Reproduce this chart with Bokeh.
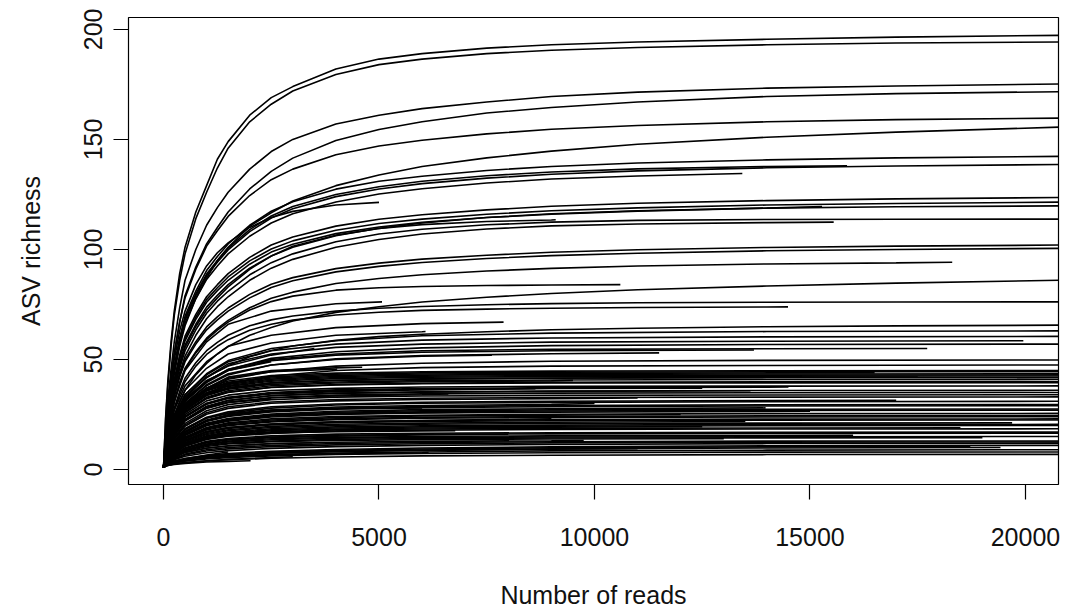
from bokeh.plotting import figure
from bokeh.models import Range1d, FixedTicker
from bokeh.embed import file_html
from bokeh.resources import INLINE

X_TICKS = [0, 5000, 10000, 15000, 20000]
Y_TICKS = [0, 50, 100, 150, 200]

# ---- richer samples: at a fine set of depths (number of reads)
FINE_DEPTHS = [1, 50, 100, 175, 250, 375, 500, 750, 1000, 1250, 1500, 2000, 2500,
               3000, 4000, 5000, 6000, 7500, 9000, 11000, 14000, 17000, 20800]
upper_reads = [20800, 20800, 20800, 20800, 20800, 20800,
               20800, 20800, 15860, 13430,
               20800, 20800, 20800, 15280, 15550, 9100, 5000, 20800,
               20800, 20800, 18300, 20800, 10600,
               20800, 14490, 20800]
# richness at each depth below the sample's total reads; last value = richness at total reads
upper_richness = [
    [1, 24, 40, 58, 72, 89, 101, 117, 129, 141, 149, 161, 169, 174, 182, 186.5, 189, 191.5, 193, 194.3, 195.5, 196.5, 197.3],
    [1, 23, 38, 56, 70, 86, 98, 114, 126, 137, 146, 158, 166, 172, 179.5, 184, 186.5, 189, 190.5, 191.8, 193, 193.8, 194.3],
    [1, 17.5, 31.5, 45.5, 58, 73.5, 86, 100, 111, 119, 126, 136.5, 144.5, 150, 157, 161, 164, 167, 169.5, 171.5, 173.3, 174.3, 175.2],
    [1, 16, 29, 42, 53, 67, 79, 92, 102.5, 110, 117, 127.5, 135.5, 141.5, 149.5, 154.5, 158, 162, 164.5, 167, 169.5, 170.8, 171.7],
    [1, 16, 28.7, 41.5, 52.7, 67, 78, 91, 101.5, 108.5, 115, 124.5, 131.7, 136.5, 143, 147, 149.6, 152.5, 154.6, 156.3, 158, 159, 159.7],
    [1, 12.5, 23.3, 34.2, 43.5, 56, 65.3, 77.8, 87, 95, 101, 110.5, 116.7, 122, 129, 133.8, 137.7, 141.6, 144.7, 147.8, 151, 153.3, 155.6],
    [1, 14.2, 25.6, 37, 47, 59.8, 69.7, 81.1, 90.4, 96.8, 102.5, 111, 117.4, 121.7, 127.4, 131, 133.3, 135.9, 137.7, 139.3, 140.7, 141.6, 142.3],
    [1, 13.9, 25, 36, 45.7, 58.2, 67.9, 79, 88, 94.2, 99.8, 108.1, 114.3, 118.5, 124, 127.5, 129.9, 132.4, 134.2, 135.7, 137.1, 137.9, 138.6],
    [1, 14, 25.2, 36.5, 46.2, 58.8, 68.5, 79.8, 88.8, 95, 100.6, 109, 115.2, 119.5, 125, 128.5, 131, 133.5, 135.2, 136.6, 137.7, 138],
    [1, 13.5, 24.5, 35.3, 44.9, 57.2, 66.6, 77.6, 86.4, 92.5, 98, 106, 112, 116.2, 121.6, 125.2, 127.6, 130.2, 132, 133.4, 134.5],
    [1, 12.4, 22.2, 32.1, 40.8, 51.9, 60.6, 70.5, 78.5, 84, 89, 96.4, 102, 105.7, 110.6, 113.7, 115.8, 118, 119.6, 121, 122.2, 123, 123.6],
    [1, 12.2, 21.9, 31.6, 40.1, 51, 59.5, 69.3, 77.2, 82.6, 87.5, 94.8, 100.2, 103.9, 108.7, 111.8, 113.8, 116, 117.6, 118.9, 120.2, 120.9, 121.5],
    [1, 11.5, 20.8, 30, 38, 48.5, 56.5, 66, 73.8, 79.2, 84, 91.5, 97, 101, 106.2, 109.6, 112, 114.5, 116.2, 117.6, 118.8, 119.4, 119.8],
    [1, 12, 21.5, 31, 39.5, 50.2, 58.5, 68.2, 76, 81.3, 86, 93.3, 98.8, 102.4, 107.2, 110.2, 112.3, 114.5, 116, 117.4, 118.8, 119.5],
    [1, 10, 18.5, 27, 34.3, 44, 51.5, 61, 68.5, 74, 78.5, 86, 91.5, 95.5, 101, 104.5, 107, 109.3, 110.7, 111.6, 112.2, 112.4],
    [1, 11, 20, 29, 37, 47.5, 55.5, 65, 72.5, 78, 83, 91, 97, 101.5, 106.5, 109.5, 111.3, 112.7, 113.4, 113.5],
    [1, 16, 28, 40, 50, 63, 72, 84, 92.5, 98.5, 103, 110, 114.5, 117.3, 120.2, 121.4],
    [1, 10.5, 19.5, 28.5, 36, 46, 54, 63.5, 71, 76.5, 81, 88.5, 94, 98, 103.5, 107, 109.2, 111.2, 112.4, 113.2, 113.6, 113.7, 113.8],
    [1, 10.2, 18.4, 26.5, 33.7, 42.8, 50, 58.1, 64.8, 69.4, 73.4, 79.6, 84.2, 87.2, 91.3, 93.8, 95.6, 97.4, 98.7, 99.9, 100.9, 101.5, 102],
    [1, 10, 18, 26, 33, 42, 49, 57, 63.5, 68, 72, 78, 82.7, 85.8, 89.8, 92.3, 94.1, 95.9, 97.2, 98.3, 99.4, 100, 100.5],
    [1, 9.5, 17, 24.5, 31, 39.5, 46, 53.5, 59.7, 64, 67.8, 73.5, 77.8, 80.6, 84.5, 86.8, 88.5, 90.2, 91.4, 92.5, 93.4, 93.9, 94.2],
    [1, 6.9, 12.9, 18.9, 24.1, 31, 36.1, 43, 48.2, 52.5, 55.9, 61, 64.5, 67.5, 71.4, 74, 76.1, 78.3, 80, 81.7, 83.4, 84.7, 86],
    [1, 9, 16.5, 24, 30.5, 39, 45.5, 53, 59, 63.3, 67, 72.5, 76.3, 78.8, 81.5, 82.6, 83.2, 83.6, 83.85, 84],
    [1, 8.5, 15.5, 22, 28, 35.5, 41.5, 48.5, 54, 57.8, 61, 65.3, 68, 69.8, 72, 73.3, 74.1, 74.9, 75.4, 75.8, 76, 76.1, 76.2],
    [1, 8, 14.5, 21, 27, 34, 40, 47, 52.3, 56, 59, 63.3, 66, 67.9, 70.2, 71.5, 72.3, 72.9, 73.3, 73.6, 73.85, 73.9],
    [1, 6.6, 11.8, 17, 21.6, 27.6, 32.1, 37.4, 41.7, 44.6, 47.2, 51.2, 54.1, 56.1, 58.7, 60.4, 61.5, 62.6, 63.5, 64.2, 64.9, 65.3, 65.6],
]

# ---- poorer samples: at a coarser set of depths
DEPTHS = [1, 100, 250, 500, 1000, 1500, 2500, 4000, 6000, 9000, 14000, 20800]
lower_reads = [
    5070, 7890, 6080,
    20800, 19950, 17720, 13700, 7620, 20800, 20800, 4610, 4030,
    20800, 20800, 11500,
    20800, 20800, 20800, 20800, 20800, 20800, 20800, 8630, 5690, 13620,
    20800, 6610, 20800, 20800, 10000, 20800, 13970, 6000, 20800, 20800,
    15000, 20800, 12000, 20800, 9000, 19690, 20800, 18490, 20800, 6770,
    20800, 20800, 16000, 9750, 20800, 3450, 20800, 19420, 18720, 20800,
    6150, 20800, 2020, 3000, 2500, 1200, 1500, 20800, 12500, 13000,
    16500, 20800, 9500, 20800, 12500, 20800, 8000, 20800, 3000,
    17500, 20800, 14500, 20800, 11000, 20800, 7000, 20800, 13500, 20800,
    20800, 19000, 20800, 11000, 20800, 20800, 17000, 4500, 2500, 3500,
]
lower_richness = [
    [1, 17, 31, 45, 58, 66, 72, 75.3, 76.2],
    [1, 15, 27, 38, 49, 56, 61, 64.5, 66.3, 67],
    [1, 14, 25, 36, 46, 52.5, 57.5, 61, 62.6, 62.7],
    [1, 13, 24, 34, 43, 49, 54, 57, 58.8, 59.8, 60.3, 60.5],
    [1, 12, 23, 33, 42, 48, 52.5, 55.5, 57, 57.9, 58.3, 58.5],
    [1, 12, 22, 31, 40, 45.5, 50, 52.5, 54, 54.6, 54.9, 55],
    [1, 12, 22, 31, 39.5, 45, 49.5, 52, 53.3, 54, 54.3],
    [1, 11, 21, 30, 38.5, 43.5, 47.5, 50, 51.5, 52],
    [1, 11, 20, 28, 36, 41, 44.5, 47, 48.3, 49.2, 49.6, 49.8],
    [1, 10, 19, 27, 34, 39, 42.5, 45, 46.3, 47, 47.3, 47.5],
    [1, 11, 20, 29, 37, 42, 45, 46.2, 46.5],
    [1, 11, 20, 29, 37, 41.5, 44.5, 45.6, 45.7],
    [1, 12, 22, 31.5, 40, 45.5, 50.5, 53.5, 55.3, 56.3, 56.8, 57],
    [1, 13, 24, 34, 43.5, 49.5, 55, 58.5, 60.8, 62, 62.7, 63],
    [1, 11.5, 21, 30, 38, 43, 47.5, 50.3, 51.8, 52.6, 53],
    [1, 11.1, 20.5, 29.4, 36.5, 39.6, 42.1, 43.3, 43.9, 44.2, 44.4, 44.5],
    [1, 10.9, 20, 28.7, 35.7, 38.7, 41.1, 42.3, 42.9, 43.2, 43.4, 43.5],
    [1, 10.5, 19.5, 28, 35, 38.2, 40.6, 41.8, 42.4, 42.7, 42.9, 43],
    [1, 10.2, 19, 27.5, 34.6, 37.8, 40.1, 41.3, 41.9, 42.2, 42.4, 42.5],
    [1, 10, 18.8, 27, 33.6, 36.5, 38.7, 39.8, 40.4, 40.7, 40.9, 41],
    [1, 9.5, 17.5, 25, 31.2, 33.8, 35.9, 36.9, 37.5, 37.8, 37.9, 38],
    [1, 9.9, 18.2, 26, 32.4, 35.2, 37.3, 38.4, 39, 39.3, 39.4, 39.5],
    [1, 9.2, 16.9, 24.2, 30.1, 32.7, 34.7, 35.7, 36.2, 36.7],
    [1, 9.1, 16.7, 24, 29.8, 32.3, 34.3, 35.4, 36.3],
    [1, 8.5, 15.5, 22.5, 28.5, 31.3, 33.5, 34.6, 35.1, 35.5, 35.8],
    [1, 8.5, 15.8, 22.8, 28.8, 31.5, 33.6, 34.8, 35.3, 35.7, 35.9, 36],
    [1, 8.6, 15.8, 22.7, 28.2, 30.6, 32.5, 33.4, 34, 34.4],
    [1, 7.8, 14.5, 21, 26.7, 29.5, 31.7, 32.9, 33.4, 33.7, 33.9, 34],
    [1, 6.8, 12.4, 18, 23.3, 25.7, 27.9, 29.3, 30.1, 30.5, 30.8, 31],
    [1, 6.6, 12, 17.4, 22.5, 24.9, 27, 28.4, 29.1, 29.6, 30],
    [1, 6.5, 11.8, 17.1, 22.1, 24.5, 26.6, 27.9, 28.6, 29.1, 29.4, 29.5],
    [1, 6.2, 11.2, 16.2, 21, 23.2, 25.2, 26.5, 27.2, 27.6, 28],
    [1, 7, 12.9, 18.5, 23.5, 25.4, 27, 27.7, 28],
    [1, 5.9, 10.8, 15.7, 20.3, 22.4, 24.3, 25.5, 26.2, 26.6, 26.9, 27],
    [1, 5.6, 10.2, 14.8, 19.1, 21.2, 23, 24.1, 24.7, 25.1, 25.4, 25.5],
    [1, 5.8, 10.6, 15.4, 19.9, 22, 23.9, 25, 25.7, 26.1, 26.4, 26.5],
    [1, 5.3, 9.6, 13.9, 18, 19.9, 21.6, 22.7, 23.3, 23.6, 23.9, 24],
    [1, 5.5, 10, 14.5, 18.8, 20.8, 22.5, 23.6, 24.3, 24.7, 25],
    [1, 5, 9, 13, 16.9, 18.7, 20.3, 21.3, 21.8, 22.2, 22.4, 22.5],
    [1, 5.1, 9.2, 13.3, 17.3, 19.1, 20.7, 21.7, 22.3, 23],
    [1, 4.7, 8.5, 12.3, 15.9, 17.6, 19.1, 20, 20.6, 20.9, 21.1, 21.2],
    [1, 4.5, 8.2, 11.9, 15.4, 17, 18.5, 19.4, 19.9, 20.2, 20.4, 20.5],
    [1, 4.2, 7.6, 11, 14.3, 15.8, 17.1, 18, 18.4, 18.7, 18.9, 19],
    [1, 4.1, 7.4, 10.7, 13.9, 15.4, 16.7, 17.5, 17.9, 18.2, 18.4, 18.5],
    [1, 4.4, 7.9, 11.3, 14.3, 15.6, 16.6, 17.2, 17.5, 17.6],
    [1, 3.7, 6.8, 9.9, 12.8, 14.1, 15.3, 16.1, 16.5, 16.7, 16.9, 17],
    [1, 3.3, 6, 8.7, 11.3, 12.5, 13.5, 14.2, 14.6, 14.8, 14.9, 15],
    [1, 3.4, 6.2, 9, 11.6, 12.9, 14, 14.6, 15, 15.3, 15.4, 15.5],
    [1, 3.3, 5.5, 7.7, 9.7, 10.7, 11.7, 12.4, 12.8, 13.1, 13.2],
    [1, 3, 5, 7, 9, 10, 11, 11.8, 12.3, 12.6, 12.9, 13],
    [1, 3.2, 5.6, 7.8, 9.8, 10.8, 11.8, 12.2],
    [1, 2.8, 3.9, 5, 6.4, 7.3, 8.3, 9.1, 9.8, 10.3, 10.8, 11],
    [1, 2.5, 3.5, 4.5, 5.8, 6.6, 7.5, 8.3, 8.9, 9.4, 9.8, 10],
    [1, 2.6, 3.7, 4.7, 6.1, 6.9, 7.9, 8.7, 9.3, 9.9, 10.3, 10.5],
    [1, 2.3, 3.2, 4.1, 5.2, 5.9, 6.8, 7.5, 8, 8.5, 8.8, 9],
    [1, 2.4, 3.3, 4.2, 5.3, 5.9, 6.6, 7.2, 7.6, 7.7],
    [1, 2, 2.6, 3.2, 4, 4.5, 5.1, 5.7, 6.2, 6.5, 6.8, 6.9],
    [1, 1.8, 2.3, 2.8, 3.4, 3.7, 4],
    [1, 10.5, 19.5, 28, 34.5, 37.2, 39.3, 40],
    [1, 8.5, 15.5, 22.5, 28, 30.5, 32],
    [1, 5.5, 10, 14.5, 18.5, 20],
    [1, 2.7, 3.8, 5, 6.6, 8],
    [1, 7.5, 14, 20.3, 25.8, 28.5, 30.7, 31.8, 32.4, 32.7, 32.9, 33],
    [1, 9, 16.5, 23.7, 29.7, 32.5, 34.8, 35.8, 36.4, 36.8, 37],
    [1, 3.1, 5.6, 8.1, 10.5, 11.6, 12.6, 13.2, 13.6, 13.9, 14],
    [1, 10.8, 20.2, 29, 36, 39.2, 41.6, 42.8, 43.4, 43.7, 43.9, 44],
    [1, 10.1, 18.8, 27, 33.8, 36.9, 39.3, 40.5, 41.1, 41.5, 41.7, 41.8],
    [1, 9.8, 18.2, 26.3, 32.8, 35.8, 38.1, 39.3, 39.9, 40.3, 40.5],
    [1, 5.1, 9.2, 13.3, 17.3, 19.1, 20.7, 21.7, 22.3, 22.6, 22.9, 23],
    [1, 4.3, 7.8, 11.3, 14.6, 16.2, 17.6, 18.4, 18.9, 19.2, 19.5],
    [1, 2.9, 4.4, 6, 7.6, 8.6, 9.6, 10.4, 11, 11.4, 11.8, 12],
    [1, 3.6, 6.5, 9.4, 12.1, 13.4, 14.5, 15.2, 15.7, 16],
    [1, 6, 11, 16, 20.7, 22.9, 24.8, 26, 26.7, 27.1, 27.4, 27.5],
    [1, 1.9, 2.5, 3.1, 3.9, 4.6, 5.4, 5.8],
    [1, 10.1, 18.8, 27, 33.9, 37, 39.4, 40.6, 41.2, 41.6, 41.9, 42],
    [1, 9.6, 17.9, 25.8, 32.2, 35, 37.4, 38.6, 39.2, 39.6, 39.9, 40],
    [1, 9, 16.7, 24, 30, 32.8, 35, 36.2, 36.8, 37.2, 37.4, 37.5],
    [1, 8.2, 15.2, 22, 27.8, 30.5, 32.7, 33.8, 34.4, 34.7, 34.9, 35],
    [1, 7.3, 13.6, 19.7, 25.1, 27.8, 30.1, 31.2, 31.8, 32.2, 32.5],
    [1, 6.4, 11.6, 16.8, 21.8, 24.1, 26.2, 27.4, 28.1, 28.6, 28.9, 29],
    [1, 6.2, 11.3, 16.3, 20.8, 22.8, 24.5, 25.4, 25.8, 26],
    [1, 5.4, 9.8, 14.2, 18.4, 20.3, 22, 23.1, 23.7, 24.1, 24.4, 24.5],
    [1, 4.8, 8.8, 12.7, 16.4, 18.1, 19.6, 20.6, 21.1, 21.5, 21.8],
    [1, 4.4, 8, 11.6, 15, 16.6, 18, 18.9, 19.4, 19.7, 19.9, 20],
    [1, 3.6, 6.6, 9.6, 12.4, 13.7, 14.8, 15.6, 16, 16.2, 16.4, 16.5],
    [1, 3.2, 5.8, 8.4, 10.9, 12, 13, 13.7, 14.1, 14.3, 14.4, 14.5],
    [1, 2.9, 4.7, 6.6, 8.4, 9.4, 10.4, 11.2, 11.7, 12.1, 12.4, 12.5],
    [1, 2.4, 3.4, 4.4, 5.6, 6.4, 7.3, 8.1, 8.7, 9.2, 9.5],
    [1, 2.2, 3, 3.8, 4.8, 5.4, 6.2, 6.8, 7.3, 7.6, 7.9, 8],
    [1, 11.2, 20.8, 29.8, 37, 40.2, 42.7, 43.8, 44.4, 44.7, 44.9, 45],
    [1, 7, 12.8, 18.5, 23.8, 26.2, 28.5, 29.8, 30.6, 31, 31.3, 31.5],
    [1, 4, 7.3, 10.6, 13.7, 15.1, 16.4, 17.5, 18],
    [1, 12, 22, 32, 40.5, 45, 49],
    [1, 12.5, 23, 33, 42, 47, 52, 55],
]


def curves(depths, reads_list, rows):
    xs, ys = [], []
    for reads, row in zip(reads_list, rows):
        knots = [d for d in depths if d < reads]
        n = min(len(knots), len(row) - 1)
        xs.append(knots[:n] + [reads])
        ys.append(row[:n] + [row[-1]])
    return xs, ys


FONT = "Liberation Sans"

p = figure(width=1065, height=611,
           x_range=Range1d(-812, 20766), y_range=Range1d(-6.8, 205.4),
           output_backend="svg", toolbar_location=None,
           min_border_left=128, min_border_right=7,
           min_border_top=17, min_border_bottom=124,
           x_axis_label="Number of reads", y_axis_label="ASV richness")
p.grid.visible = False
p.background_fill_color = "white"
p.border_fill_color = "white"
p.outline_line_color = "black"
p.outline_line_width = 1.2

lx, ly = curves(DEPTHS, lower_reads, lower_richness)
ux, uy = curves(FINE_DEPTHS, upper_reads, upper_richness)
p.multi_line(lx, ly, line_color="black", line_width=1.6)
p.multi_line(ux, uy, line_color="black", line_width=1.6)

for ax in (p.xaxis[0], p.yaxis[0]):
    ax.axis_line_color = None
    ax.major_tick_out = 15
    ax.major_tick_in = 0
    ax.minor_tick_line_color = None
    ax.major_tick_line_color = "black"
    ax.major_tick_line_width = 1.2
    ax.major_label_text_font = FONT
    ax.major_label_text_font_size = "25px"
    ax.major_label_text_color = "#111111"
    ax.axis_label_text_font = FONT
    ax.axis_label_text_font_size = "25px"
    ax.axis_label_text_font_style = "normal"
    ax.axis_label_text_color = "#111111"

p.xaxis.ticker = FixedTicker(ticks=X_TICKS)
p.yaxis.ticker = FixedTicker(ticks=Y_TICKS)
p.yaxis.major_label_orientation = "vertical"
p.xaxis.major_label_standoff = 28
p.xaxis.axis_label_standoff = 32
p.yaxis.major_label_standoff = 11
p.yaxis.axis_label_standoff = 37

open("out.html", "w").write(file_html(p, INLINE))
